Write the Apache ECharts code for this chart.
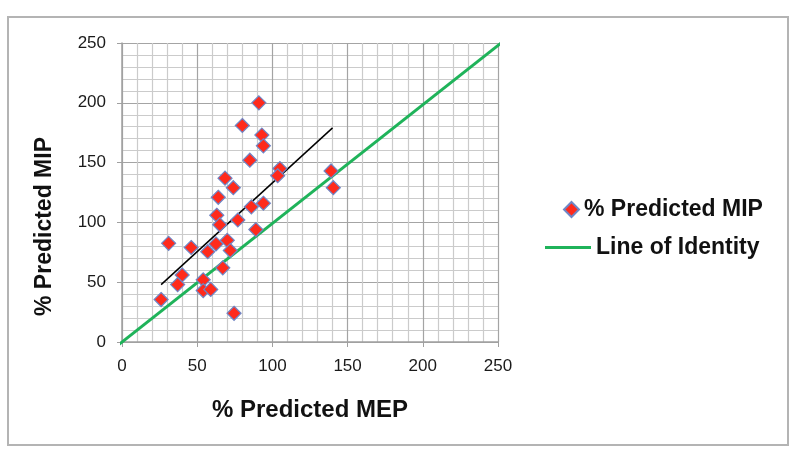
<!DOCTYPE html>
<html>
<head>
<meta charset="utf-8">
<script src="https://cdn.jsdelivr.net/npm/echarts@6/dist/echarts.min.js"></script>
<style>
  html, body { margin: 0; padding: 0; background: #fff; }
  #chart { width: 800px; height: 465px; }
</style>
</head>
<body>
<div id="chart"></div>
<script>
// % Predicted MEP (x) and % Predicted MIP (y) for each subject
var mepValues = [91, 80, 93, 94, 85, 105, 103.5, 68.5, 74, 64, 86, 94, 63, 77, 65, 89, 31, 46, 62.5, 70, 57, 72, 67, 40, 37, 54, 54, 59, 26, 74.5, 139, 140.5];
var mipValues = [200, 181, 173, 164, 152, 145, 139, 137, 129, 121, 113, 116, 106, 102, 98, 94, 82.5, 79, 82, 85, 75.5, 76.5, 62, 56, 48, 52, 43, 44, 35.5, 24, 143, 129];

// black fitted line end points
var trendX = [26, 140];
var trendY = [48, 179];

// line of identity end points
var identityX = [-2, 253];
var identityY = [-2, 251];

var axisTicks = [0, 50, 100, 150, 200, 250];

var chart = echarts.init(document.getElementById("chart"));

var scatterData = [];
for (let i = 0; i < mepValues.length; i++) {
  scatterData.push([mepValues[i], mipValues[i]]);
}
var trendData = [];
trendX.forEach((x, i) => trendData.push([x, trendY[i]]));
var identityData = [];
identityX.forEach((x, i) => identityData.push([x, identityY[i]]));

var axisCommon = {
  type: "value",
  min: axisTicks[0],
  max: axisTicks[axisTicks.length - 1],
  interval: 50,
  axisLine: { show: true, lineStyle: { color: "#a0a0a0", width: 1.5 } },
  axisTick: { show: true, length: 5, lineStyle: { color: "#a0a0a0" } },
  splitLine: { show: true, lineStyle: { color: "#a4a4a4", width: 1.2 } },
  minorTick: { show: false, splitNumber: 5 },
  minorSplitLine: { show: true, lineStyle: { color: "#cbcbcb", width: 1.2 } },
  nameLocation: "middle",
  nameTextStyle: {
    fontFamily: "Liberation Sans",
    fontWeight: "bold",
    fontSize: 23,
    color: "#111",
  },
  axisLabel: {
    fontFamily: "Liberation Sans",
    fontSize: 17,
    color: "#1a1a1a",
  },
};

var legendText = {
  fontFamily: "Liberation Sans",
  fontWeight: "bold",
  fontSize: 23,
  color: "#111",
};

option = {
  backgroundColor: "#fff",
  animation: false,
  grid: {
    left: 122,
    right: 302,
    top: 43,
    bottom: 123,
  },
  xAxis: Object.assign({}, axisCommon, {
    name: "% Predicted MEP",
    nameGap: 56,
    nameTextStyle: Object.assign({}, axisCommon.nameTextStyle, { fontSize: 24 }),
    axisLabel: Object.assign({}, axisCommon.axisLabel, { margin: 16 }),
  }),
  yAxis: Object.assign({}, axisCommon, {
    name: "% Predicted MIP",
    nameGap: 66,
    nameTextStyle: Object.assign({}, axisCommon.nameTextStyle, {
      padding: [0, 68, 0, 0],
    }),
    axisLabel: Object.assign({}, axisCommon.axisLabel, { margin: 16 }),
  }),
  legend: [
    {
      data: ["% Predicted MIP"],
      orient: "vertical",
      left: 558,
      top: 193,
      itemWidth: 15,
      itemHeight: 15,
      textStyle: legendText,
    },
    {
      data: [{ name: "Line of Identity", icon: "rect" }],
      orient: "vertical",
      left: 540,
      top: 231,
      itemWidth: 46,
      itemHeight: 3,
      textStyle: legendText,
    },
  ],
  graphic: [
    {
      type: "rect",
      shape: { x: 8, y: 17, width: 780, height: 428 },
      style: { fill: "none", stroke: "#b4b4b4", lineWidth: 2 },
      silent: true,
    },
  ],
  series: [
    {
      name: "Line of Identity",
      type: "line",
      data: identityData,
      symbol: "none",
      clip: false,
      lineStyle: { color: "#1fb35a", width: 3 },
      itemStyle: { color: "#1fb35a" },
      z: 2,
    },
    {
      name: "trend",
      type: "line",
      data: trendData,
      symbol: "none",
      lineStyle: { color: "#000", width: 1.5 },
      z: 3,
    },
    {
      name: "% Predicted MIP",
      type: "scatter",
      data: scatterData,
      symbol: "diamond",
      symbolSize: 14,
      itemStyle: {
        color: "#ff2a1c",
        borderColor: "#6f86c6",
        borderWidth: 1.2,
        opacity: 1,
      },
      z: 4,
    },
  ],
};
chart.setOption(option);
</script>
</body>
</html>
